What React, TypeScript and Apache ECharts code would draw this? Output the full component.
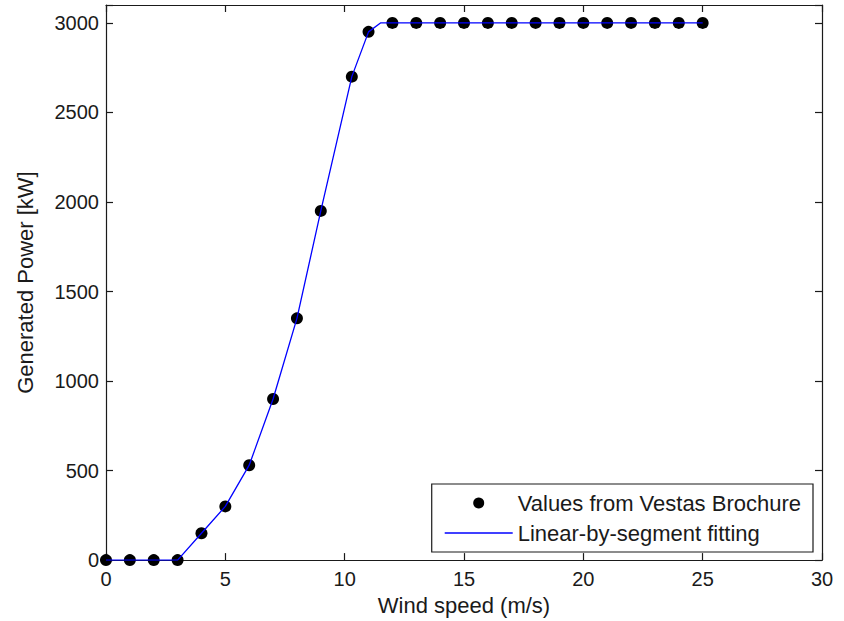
import React, { useEffect, useRef } from "react";
import * as echarts from "echarts";

const brochureSpeeds = [0, 1, 2, 3, 4, 5, 6, 7, 8, 9, 10.3, 11, 12, 13, 14, 15, 16, 17, 18, 19, 20, 21, 22, 23, 24, 25];
const brochurePower = [0, 0, 0, 0, 150, 300, 530, 900, 1350, 1950, 2700, 2950, 3000, 3000, 3000, 3000, 3000, 3000, 3000, 3000, 3000, 3000, 3000, 3000, 3000, 3000];

const fitSpeeds = [0, 3, 4, 5, 6, 7, 8, 9, 10.3, 11, 11.5, 25];
const fitPower = [0, 0, 150, 300, 530, 900, 1350, 1950, 2700, 2950, 3000, 3000];

const xTicks = [0, 5, 10, 15, 20, 25, 30];
const yTicks = [0, 500, 1000, 1500, 2000, 2500, 3000];

const FONT = "'Liberation Sans', Arial, sans-serif";
const INK = "#1a1a1a";

export default function App() {
  const ref = useRef<HTMLDivElement>(null);
  useEffect(() => {
    if (!ref.current) return;
    const chart = echarts.init(ref.current, undefined, { renderer: "svg" });
    const axisLine = { show: true, onZero: false, lineStyle: { color: INK, width: 1.2 } };
    const tick = { show: true, inside: true, length: 7, lineStyle: { color: INK, width: 1.2 } };
    const xBase = { type: "value", min: xTicks[0], max: xTicks[xTicks.length - 1], interval: 5, splitLine: { show: false }, axisLine, axisTick: tick };
    const yBase = { type: "value", min: 0, max: 3100, interval: 500, splitLine: { show: false }, axisLine, axisTick: tick };
    const fmtY = (v: number) => (yTicks.includes(v) ? String(v) : "");
    chart.setOption({
      animation: false,
      backgroundColor: "#ffffff",
      grid: { left: 106, right: 22, top: 5, bottom: 59, containLabel: false },
      xAxis: [
        {
          ...xBase,
          position: "bottom",
          name: "Wind speed (m/s)",
          nameLocation: "middle",
          nameGap: 33,
          nameTextStyle: { fontFamily: FONT, fontSize: 22, color: INK },
          axisLabel: { fontFamily: FONT, fontSize: 20, color: INK, margin: 9 },
        },
        { ...xBase, position: "top", axisLabel: { show: false } },
      ],
      yAxis: [
        {
          ...yBase,
          position: "left",
          name: "Generated Power [kW]",
          nameLocation: "middle",
          nameGap: 70,
          nameTextStyle: { fontFamily: FONT, fontSize: 22, color: INK },
          axisLabel: { fontFamily: FONT, fontSize: 20, color: INK, margin: 7, formatter: fmtY },
        },
        { ...yBase, position: "right", axisLabel: { show: false } },
      ],
      legend: {
        right: 31,
        bottom: 69,
        orient: "vertical",
        backgroundColor: "#ffffff",
        borderColor: INK,
        borderWidth: 1.2,
        borderRadius: 0,
        padding: [8, 12, 8, 13],
        itemWidth: 68,
        itemHeight: 11,
        itemGap: 8,
        textStyle: { fontFamily: FONT, fontSize: 22, color: INK },
        data: [
          { name: "Values from Vestas Brochure", icon: "circle" },
          { name: "Linear-by-segment fitting", icon: "path://M0,0H68V1.3H0Z" },
        ],
      },
      series: [
        {
          name: "Values from Vestas Brochure",
          type: "scatter",
          symbol: "circle",
          symbolSize: 12,
          itemStyle: { color: "#000000", opacity: 1 },
          data: brochureSpeeds.map((x, i) => [x, brochurePower[i]]),
          z: 2,
        },
        {
          name: "Linear-by-segment fitting",
          type: "line",
          symbol: "none",
          smooth: false,
          lineStyle: { color: "#0000ff", width: 1.3 },
          itemStyle: { color: "#0000ff" },
          data: fitSpeeds.map((x, i) => [x, fitPower[i]]),
          z: 3,
        },
      ],
    });
    return () => chart.dispose();
  }, []);
  return <div ref={ref} style={{ position: "fixed", left: 0, top: 0, width: 844, height: 621 }} />;
}
